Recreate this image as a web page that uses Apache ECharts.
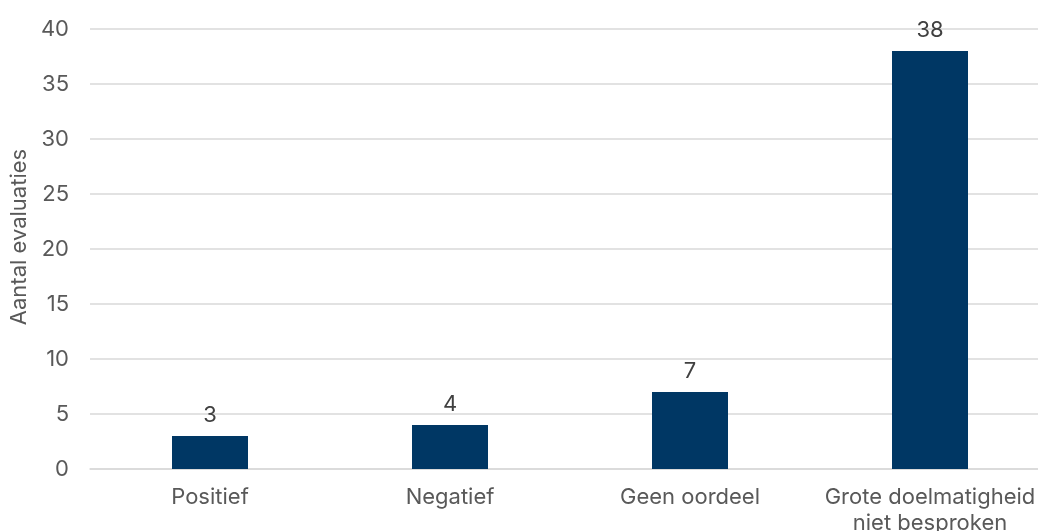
<!DOCTYPE html>
<html>
<head>
<meta charset="utf-8">
<script src="https://cdn.jsdelivr.net/npm/echarts@6/dist/echarts.min.js"></script>
<style>
  html, body { margin: 0; padding: 0; background: #ffffff; overflow: hidden; }
  #chart { width: 1038px; height: 531px; overflow: hidden; }
</style>
</head>
<body>
<div id="chart"></div>
<script>
// Beoordeling van doelmatigheid in evaluaties
const categories = ['Positief', 'Negatief', 'Geen oordeel', 'Grote doelmatigheid\nniet besproken'];
const counts = [3, 4, 7, 38];
const yAxisTitle = 'Aantal evaluaties';

const textColor = '#595959';
const gridColor = '#d9d9d9';
const barColor = '#003764';
const fontFamily = 'Inter, "Noto Sans", sans-serif';

const chart = echarts.init(document.getElementById('chart'));
chart.setOption({
  animation: false,
  backgroundColor: '#ffffff',
  grid: {
    left: 90, top: 29, width: 960, height: 440,
    containLabel: false, outerBoundsMode: 'none'
  },
  xAxis: {
    type: 'category',
    data: categories,
    axisLine: { show: true, lineStyle: { color: gridColor, width: 1.5 } },
    axisTick: { show: false },
    axisLabel: {
      color: textColor, fontFamily: fontFamily, fontSize: 22,
      margin: 15, lineHeight: 26, interval: 0
    }
  },
  yAxis: {
    type: 'value',
    min: 0, max: 40, interval: 5,
    name: yAxisTitle,
    nameLocation: 'middle',
    nameGap: 60,
    nameRotate: 90,
    nameTextStyle: {
      color: textColor, fontFamily: fontFamily, fontSize: 22,
      padding: [0, 0, 0, 24]
    },
    axisLine: { show: false },
    axisTick: { show: false },
    axisLabel: { color: textColor, fontFamily: fontFamily, fontSize: 22, margin: 21 },
    splitLine: { lineStyle: { color: gridColor, width: 1.5 } }
  },
  series: [{
    type: 'bar',
    data: counts,
    barWidth: 76,
    itemStyle: { color: barColor },
    label: {
      show: true, position: 'top', distance: 10,
      color: '#404040', fontFamily: fontFamily, fontSize: 22
    }
  }]
});
</script>
</body>
</html>
